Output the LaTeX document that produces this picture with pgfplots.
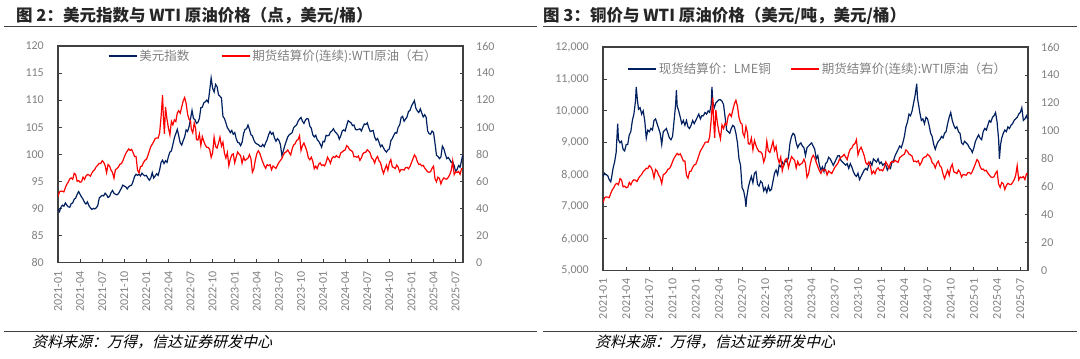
\documentclass[border=0pt]{standalone}
\usepackage{fontspec}
\setmainfont{Carlito}
\newfontfamily\cjk{Noto Sans CJK SC}
\newfontfamily\cjkit{Noto Sans CJK SC}[FakeSlant=0.25]
\usepackage{pgfplots}
\usepackage{pgfplotstable}
\pgfplotsset{compat=1.18}

\definecolor{navy}{RGB}{0,32,96}
\definecolor{lred}{RGB}{255,0,0}
\definecolor{tickgray}{RGB}{128,128,128}
\definecolor{framec}{RGB}{64,64,64}
\definecolor{titlec}{RGB}{38,38,38}

\pgfplotstableread{
m v
0 89.9
0.2 89.4
0.4 90.2
0.6 90.6
0.8 90.4
1.0 91.0
1.2 90.6
1.4 90.3
1.6 90.2
1.8 90.9
2.0 91.0
2.2 91.7
2.4 91.9
2.6 92.6
2.8 93.1
3.0 92.6
3.2 92.1
3.4 91.7
3.6 91.1
3.8 90.8
4.0 91.2
4.2 90.5
4.4 90.1
4.6 89.8
4.8 90.0
5.0 89.9
5.2 90.1
5.4 90.5
5.6 91.9
5.8 92.2
6.0 92.4
6.2 92.3
6.4 92.8
6.6 92.5
6.8 92.0
7.0 92.2
7.2 92.9
7.4 93.3
7.6 92.8
7.8 92.6
8.0 92.5
8.2 92.7
8.4 93.2
8.6 93.7
8.8 94.3
9.0 94.1
9.2 94.0
9.4 93.6
9.6 94.0
9.8 94.2
10.0 94.3
10.2 95.0
10.4 95.9
10.6 96.3
10.8 96.1
11.0 96.3
11.2 96.0
11.4 96.5
11.6 96.2
11.8 96.0
12.0 96.1
12.2 95.6
12.4 95.2
12.6 95.6
12.8 96.6
13.0 95.6
13.2 96.0
13.4 96.4
13.6 96.1
13.8 97.1
14.0 98.5
14.2 98.9
14.4 98.3
14.6 98.8
14.8 98.5
15.0 99.6
15.2 100.4
15.4 100.6
15.6 101.8
15.8 103.0
16.0 103.8
16.2 104.6
16.4 103.4
16.6 102.1
16.8 101.7
17.0 102.5
17.2 103.2
17.4 104.5
17.6 104.2
17.8 105.1
18.0 106.6
18.2 108.1
18.4 106.6
18.6 106.4
18.8 105.7
19.0 105.9
19.2 106.6
19.4 108.6
19.6 108.7
19.8 109.5
20.0 109.7
20.2 110.0
20.4 109.6
20.6 111.8
20.8 114.1
21.0 112.2
21.2 111.5
21.4 112.9
21.6 112.5
21.8 111.0
22.0 110.7
22.2 110.4
22.4 107.0
22.6 106.6
22.8 105.8
23.0 104.9
23.2 104.5
23.4 104.0
23.6 104.4
23.8 103.7
24.0 104.0
24.2 102.9
24.4 102.2
24.6 102.1
24.8 101.6
25.0 102.2
25.2 103.8
25.4 104.6
25.6 104.7
25.8 105.4
26.0 104.6
26.2 103.6
26.4 103.4
26.6 102.6
26.8 102.1
27.0 101.9
27.2 101.8
27.4 101.5
27.6 101.4
27.8 101.8
28.0 101.4
28.2 102.1
28.4 102.7
28.6 103.6
28.8 104.2
29.0 103.7
29.2 104.0
29.4 103.0
29.6 102.4
29.8 102.9
30.0 102.6
30.2 101.8
30.4 99.8
30.6 100.6
30.8 101.6
31.0 102.4
31.2 103.2
31.4 103.6
31.6 103.8
31.8 104.0
32.0 104.9
32.2 105.2
32.4 105.4
32.6 106.1
32.8 106.5
33.0 106.8
33.2 106.1
33.4 105.7
33.6 106.3
33.8 106.6
34.0 106.5
34.2 105.2
34.4 104.8
34.6 103.6
34.8 103.2
35.0 103.5
35.2 102.7
35.4 102.4
35.6 101.9
35.8 101.3
36.0 102.4
36.2 102.3
36.4 103.5
36.6 103.4
36.8 103.5
37.0 104.1
37.2 104.3
37.4 104.7
37.6 104.2
37.8 103.9
38.0 103.6
38.2 102.8
38.4 103.4
38.6 104.3
38.8 104.5
39.0 104.3
39.2 105.3
39.4 106.2
39.6 106.0
39.8 105.8
40.0 105.3
40.2 105.4
40.4 104.6
40.6 104.5
40.8 104.6
41.0 104.7
41.2 104.3
41.4 105.0
41.6 105.6
41.8 105.5
42.0 105.8
42.2 104.9
42.4 104.2
42.6 104.3
42.8 104.4
43.0 103.2
43.2 102.6
43.4 102.9
43.6 102.2
43.8 101.4
44.0 101.7
44.2 101.2
44.4 100.7
44.6 100.4
44.8 100.8
45.0 101.0
45.2 102.5
45.4 102.9
45.6 103.5
45.8 104.0
46.0 103.9
46.2 105.0
46.4 105.4
46.6 106.8
46.8 107.0
47.0 106.1
47.2 106.5
47.4 106.9
47.6 107.9
47.8 108.1
48.0 108.9
48.2 109.4
48.4 109.9
48.6 108.5
48.8 108.0
49.0 107.7
49.2 108.4
49.4 107.6
49.6 106.9
49.8 107.3
50.0 106.8
50.2 104.3
50.4 103.8
50.6 103.7
50.8 104.3
51.0 104.0
51.2 102.0
51.4 99.8
51.6 99.6
51.8 99.2
52.0 99.5
52.2 101.5
52.4 101.0
52.6 100.0
52.8 99.2
53.0 99.4
53.2 99.0
53.4 98.5
53.6 98.6
53.8 97.9
54.0 96.8
54.2 97.2
54.4 97.9
54.6 97.6
54.8 98.8
54.95 99.8
}\dxy

\pgfplotstableread{
m v
0 48.5
0.2 52.2
0.4 52.8
0.6 52.6
0.8 52.2
1.0 55.3
1.2 57.8
1.4 59.5
1.6 61.7
1.8 62.5
2.0 61.5
2.2 65.9
2.4 64.9
2.6 60.0
2.8 60.5
3.0 59.3
3.2 59.7
3.4 63.1
3.6 61.4
3.8 63.9
4.0 65.0
4.2 64.7
4.4 63.8
4.6 66.1
4.8 67.7
5.0 68.8
5.2 70.9
5.4 71.9
5.6 73.3
5.8 73.1
6.0 75.2
6.2 74.1
6.4 71.6
6.6 66.4
6.8 72.4
7.0 71.3
7.2 68.3
7.4 66.6
7.6 62.3
7.8 68.7
8.0 69.3
8.2 70.5
8.4 72.6
8.6 73.0
8.8 75.0
9.0 78.0
9.2 80.5
9.4 82.3
9.6 83.9
9.8 82.8
10.0 83.6
10.2 81.2
10.4 78.4
10.6 78.4
10.8 68.2
11.0 66.2
11.2 70.9
11.4 71.2
11.6 73.8
11.8 75.6
12.0 76.1
12.2 78.9
12.4 82.4
12.6 85.6
12.8 87.4
13.0 89.4
13.2 91.6
13.4 92.1
13.6 91.9
13.8 95.7
14.0 107.7
14.2 123.7
14.3 108.7
14.45 95.0
14.6 114.9
14.8 105.9
15.0 99.3
15.2 94.3
15.4 104.3
15.6 101.7
15.8 105.4
16.0 104.2
16.2 110.5
16.4 112.2
16.6 110.3
16.8 114.9
17.0 119.4
17.2 121.9
17.4 117.6
17.6 109.6
17.8 105.8
18.0 104.8
18.1 98.5
18.3 95.8
18.5 103.1
18.7 98.6
18.8 90.8
19.0 90.5
19.2 94.9
19.4 86.5
19.6 93.1
19.8 89.6
20.0 86.8
20.2 85.1
20.4 85.0
20.6 83.5
20.8 77.7
21.0 81.2
21.2 92.6
21.4 85.6
21.6 84.6
21.8 88.3
22.0 92.6
22.2 86.0
22.4 88.9
22.6 80.9
22.8 77.2
23.0 81.2
23.2 71.5
23.4 76.3
23.6 79.5
23.8 80.3
24.0 73.7
24.2 77.9
24.4 81.6
24.6 80.1
24.8 78.9
25.0 73.4
25.2 78.1
25.4 75.4
25.6 76.3
25.8 77.1
26.0 79.7
26.2 76.7
26.4 66.7
26.6 69.3
26.8 75.7
27.0 80.4
27.2 82.5
27.4 80.8
27.6 77.4
27.8 74.3
28.0 71.6
28.2 69.6
28.4 72.3
28.6 71.6
28.8 72.3
29.0 68.5
29.2 71.3
29.4 70.4
29.6 69.5
29.8 71.8
30.0 73.9
30.2 75.4
30.4 76.8
30.6 79.6
30.8 81.2
31.0 81.8
31.2 83.2
31.4 81.3
31.6 79.4
31.8 84.0
32.0 86.9
32.2 87.7
32.4 90.2
32.6 90.8
32.8 93.7
33.0 82.8
33.2 86.4
33.4 88.3
33.6 85.4
33.8 82.3
34.0 77.4
34.2 75.9
34.4 77.8
34.6 74.9
34.8 69.3
35.0 71.2
35.2 69.4
35.4 72.5
35.6 73.6
35.8 71.7
36.0 72.2
36.2 71.4
36.4 73.8
36.6 77.8
36.8 75.9
37.0 73.3
37.2 77.0
37.4 78.2
37.6 77.6
37.8 79.0
38.0 78.0
38.2 77.6
38.4 81.0
38.6 81.7
38.8 82.7
39.0 83.2
39.2 86.4
39.4 85.4
39.6 83.4
39.8 82.8
40.0 81.9
40.2 78.1
40.4 78.4
40.6 77.7
40.8 78.7
41.0 75.5
41.2 77.3
41.4 80.3
41.6 81.3
41.8 81.5
42.0 83.3
42.2 82.3
42.4 80.8
42.6 77.2
42.8 76.3
43.0 73.5
43.2 76.9
43.4 78.4
43.6 75.0
43.8 73.8
44.0 69.2
44.2 65.8
44.4 69.0
44.6 71.9
44.8 68.2
45.0 73.7
45.2 76.1
45.4 70.7
45.6 70.2
45.8 69.5
46.0 72.0
46.2 70.4
46.4 67.0
46.6 68.8
46.8 68.6
47.0 68.3
47.2 70.0
47.4 70.3
47.6 69.2
47.8 71.0
48.0 73.8
48.2 76.6
48.4 79.5
48.6 78.0
48.8 74.5
49.0 72.5
49.2 72.7
49.4 71.4
49.6 71.8
49.8 69.8
50.0 68.4
50.2 67.0
50.4 66.7
50.6 67.2
50.8 69.7
51.0 71.2
51.2 61.9
51.4 59.6
51.6 63.1
51.8 62.1
52.0 58.1
52.2 61.0
52.4 62.5
52.6 61.8
52.8 61.6
53.0 63.0
53.2 64.9
53.4 68.0
53.6 75.1
53.8 65.0
54.0 67.0
54.2 66.5
54.4 67.3
54.6 65.2
54.8 69.3
54.95 69.3
}\wti

\pgfplotstableread{
m v
0 7950
0.2 8050
0.4 8000
0.6 7980
0.8 7850
1.0 7780
1.1 7900
1.3 8200
1.5 8400
1.7 8700
1.9 9600
2.0 9100
2.2 9000
2.4 9050
2.6 8800
2.8 8750
3.0 8950
3.2 8950
3.4 9250
3.6 9350
3.8 9700
4.0 9900
4.2 10300
4.3 10750
4.45 10350
4.6 10050
4.8 10100
5.0 9900
5.2 10000
5.4 9700
5.6 9150
5.8 9400
6.0 9350
6.2 9450
6.4 9400
6.6 9700
6.8 9750
7.0 9600
7.2 9450
7.4 9300
7.6 8950
7.8 9350
8.0 9400
8.2 9450
8.4 9300
8.6 9150
8.8 9100
9.0 9200
9.2 9700
9.4 10200
9.5 10650
9.6 10150
9.8 10000
10.0 9800
10.2 9600
10.4 9700
10.6 9550
10.8 9700
11.0 9500
11.2 9450
11.4 9550
11.6 9700
11.8 9600
12.0 9700
12.2 9800
12.4 9900
12.6 9750
12.8 9850
13.0 9850
13.2 9950
13.4 9900
13.6 10000
13.8 9950
14.0 10200
14.1 10750
14.2 10300
14.4 10100
14.6 10250
14.8 10300
15.0 10350
15.2 10350
15.4 10300
15.6 10200
15.8 9800
16.0 9400
16.2 9350
16.4 9300
16.6 9450
16.8 9550
17.0 9500
17.2 9300
17.4 9000
17.6 8500
17.8 8300
18.0 7600
18.2 7500
18.4 7250
18.5 7000
18.6 7300
18.8 7600
19.0 7800
19.2 7950
19.4 7750
19.6 8050
19.8 8100
20.0 7700
20.2 7650
20.4 7800
20.6 7750
20.8 7500
21.0 7600
21.2 7450
21.4 7650
21.6 7500
21.8 7550
22.0 7800
22.2 8050
22.4 8150
22.6 8000
22.8 8300
23.0 8250
23.2 8400
23.4 8300
23.6 8450
23.8 8400
24.0 8550
24.2 9000
24.4 9200
24.6 9300
24.8 9250
25.0 9000
25.2 8850
25.4 8950
25.6 9000
25.8 8900
26.0 8850
26.2 8600
26.4 8850
26.6 8900
26.8 8950
27.0 9000
27.2 8900
27.4 8800
27.6 8500
27.8 8600
28.0 8300
28.2 8150
28.4 8250
28.6 8100
28.8 8350
29.0 8400
29.2 8550
29.4 8500
29.6 8400
29.8 8300
30.0 8400
30.2 8500
30.4 8600
30.6 8600
30.8 8450
31.0 8400
31.2 8350
31.4 8300
31.6 8350
31.8 8200
32.0 8350
32.2 8250
32.4 8100
32.6 8000
32.8 7950
33.0 8050
33.2 7850
33.4 7950
33.6 8050
33.8 8150
34.0 8200
34.2 8150
34.4 8300
34.6 8400
34.8 8300
35.0 8500
35.2 8450
35.4 8400
35.6 8500
35.8 8350
36.0 8400
36.2 8300
36.4 8350
36.6 8300
36.8 8150
37.0 8250
37.2 8200
37.4 8400
37.6 8450
37.8 8600
38.0 8700
38.2 8800
38.4 8900
38.6 8850
38.8 9000
39.0 9200
39.2 9500
39.4 9650
39.6 9900
39.8 9850
40.0 10000
40.2 10250
40.4 10500
40.6 10850
40.7 10400
40.9 10100
41.0 9950
41.2 9700
41.4 9750
41.6 9600
41.8 9800
42.0 9750
42.2 9550
42.4 9300
42.6 9200
42.8 8950
43.0 8800
43.2 8950
43.4 9050
43.6 9100
43.8 9200
44.0 9150
44.2 9300
44.4 9350
44.6 9600
44.8 9800
45.0 9950
45.2 9700
45.4 9550
45.6 9450
45.8 9500
46.0 9350
46.2 9300
46.4 9000
46.6 8950
46.8 9050
47.0 9000
47.2 8950
47.4 8850
47.6 8800
47.8 8700
48.0 8850
48.2 9050
48.4 9150
48.6 9250
48.8 9150
49.0 9100
49.2 9350
49.4 9450
49.6 9400
49.8 9550
50.0 9700
50.2 9650
50.4 9800
50.6 9850
50.8 9950
51.0 9650
51.2 9100
51.3 8500
51.45 8950
51.6 9150
51.8 9300
52.0 9400
52.2 9350
52.4 9500
52.6 9450
52.8 9550
53.0 9600
53.2 9700
53.4 9750
53.6 9800
53.8 9900
54.0 9950
54.2 10100
54.4 9700
54.6 9750
54.8 9850
54.95 9750
}\copper

\pgfplotsset{
  base/.style={
    scale only axis, anchor=south west,
    xmin=0, xmax=55,
    axis line style={framec, line width=1.3pt},
    tick style={framec, line width=0.9pt},
    major tick length=3.5pt,
    tick align=inside,
    tick label style={font=\fontsize{12}{14}\selectfont, text=tickgray},
    /pgf/number format/assume math mode=true,
    /pgf/number format/1000 sep={,},
    scaled y ticks=false,
    minor tick num=0,
  },
  primary/.style={
    base,
    xtick={0,3,...,54},
    xticklabels={2021-01,2021-04,2021-07,2021-10,2022-01,2022-04,2022-07,2022-10,2023-01,2023-04,2023-07,2023-10,2024-01,2024-04,2024-07,2024-10,2025-01,2025-04,2025-07},
    xticklabel style={rotate=90, anchor=east, inner sep=0pt, xshift=0pt},
    xtick pos=left, ytick pos=left,
    yticklabel style={anchor=east, inner sep=0pt},
    yticklabel shift=14pt,
  },
  secondary/.style={
    base,
    axis line style={draw=none},
    xtick=\empty,
    ytick pos=right, yticklabel pos=right,
    yticklabel style={anchor=west, inner sep=0pt},
    yticklabel shift=13pt,
    ymin=0, ymax=160, ytick={0,20,...,160},
    legend columns=2,
    legend cell align=left,
    legend image code/.code={\draw[#1] (0pt,0pt) -- (28pt,0pt);},
  },
}

\begin{document}
\begin{tikzpicture}
\useasboundingbox (0,0) rectangle (1080pt,359pt);

% titles
\node[anchor=west, inner sep=0pt, text=titlec, font=\cjk\bfseries\fontsize{16.5}{18}\selectfont] at (16pt,343pt) {图 2：美元指数与 WTI 原油价格（点，美元/桶）};
\node[anchor=west, inner sep=0pt, text=titlec, font=\cjk\bfseries\fontsize{16.5}{18}\selectfont] at (543pt,343pt) {图 3：铜价与 WTI 原油价格（美元/吨，美元/桶）};
\draw[framec, line width=0.9pt] (4pt,333pt) -- (537pt,333pt);
\draw[framec, line width=0.9pt] (543pt,333pt) -- (1077pt,333pt);
\draw[framec, line width=0.9pt] (4pt,28pt) -- (537pt,28pt);
\draw[framec, line width=0.9pt] (543pt,28pt) -- (1077pt,28pt);
\node[anchor=west, inner sep=0pt, font=\cjkit\fontsize{15}{16}\selectfont] at (32pt,17pt) {资料来源：万得，信达证券研发中心};
\node[anchor=west, inner sep=0pt, font=\cjkit\fontsize{15}{16}\selectfont] at (595pt,17pt) {资料来源：万得，信达证券研发中心};

% ---------- left panel ----------
\begin{axis}[primary, at={(58pt,96.5pt)}, width=405pt, height=216.5pt,
  ymin=80, ymax=120, ytick={80,85,...,120}, xticklabel shift=9pt]
  \addplot[navy, line width=1.2pt] table[x=m, y=v] {\dxy};
\end{axis}
\begin{axis}[secondary, at={(58pt,96.5pt)}, width=405pt, height=216.5pt,
  legend style={at={(0.115,0.954)}, anchor=west, draw=none, fill=none,
    font=\cjk\fontsize{12.5}{14}\selectfont, text=tickgray,
    /tikz/every even column/.append style={column sep=30pt}}]
  \addlegendimage{navy, line width=1.5pt}
  \addlegendentry{美元指数}
  \addplot[lred, line width=1.2pt] table[x=m, y=v] {\wti};
  \addlegendentry{期货结算价(连续):WTI原油（右）}
\end{axis}

% ---------- right panel ----------
\begin{axis}[primary, at={(603pt,88.3pt)}, width=425pt, height=223.7pt,
  ymin=5000, ymax=12000, ytick={5000,6000,...,12000}, xticklabel shift=8pt]
  \addplot[navy, line width=1.2pt] table[x=m, y=v] {\copper};
\end{axis}
\begin{axis}[secondary, at={(603pt,88.3pt)}, width=425pt, height=223.7pt,
  legend style={at={(0.050,0.902)}, anchor=west, draw=none, fill=none,
    font=\cjk\fontsize{12.5}{14}\selectfont, text=tickgray,
    /tikz/every even column/.append style={column sep=18pt}}]
  \addlegendimage{navy, line width=1.5pt}
  \addlegendentry{现货结算价：LME铜}
  \addplot[lred, line width=1.2pt] table[x=m, y=v] {\wti};
  \addlegendentry{期货结算价(连续):WTI原油（右）}
\end{axis}
\end{tikzpicture}
\end{document}
